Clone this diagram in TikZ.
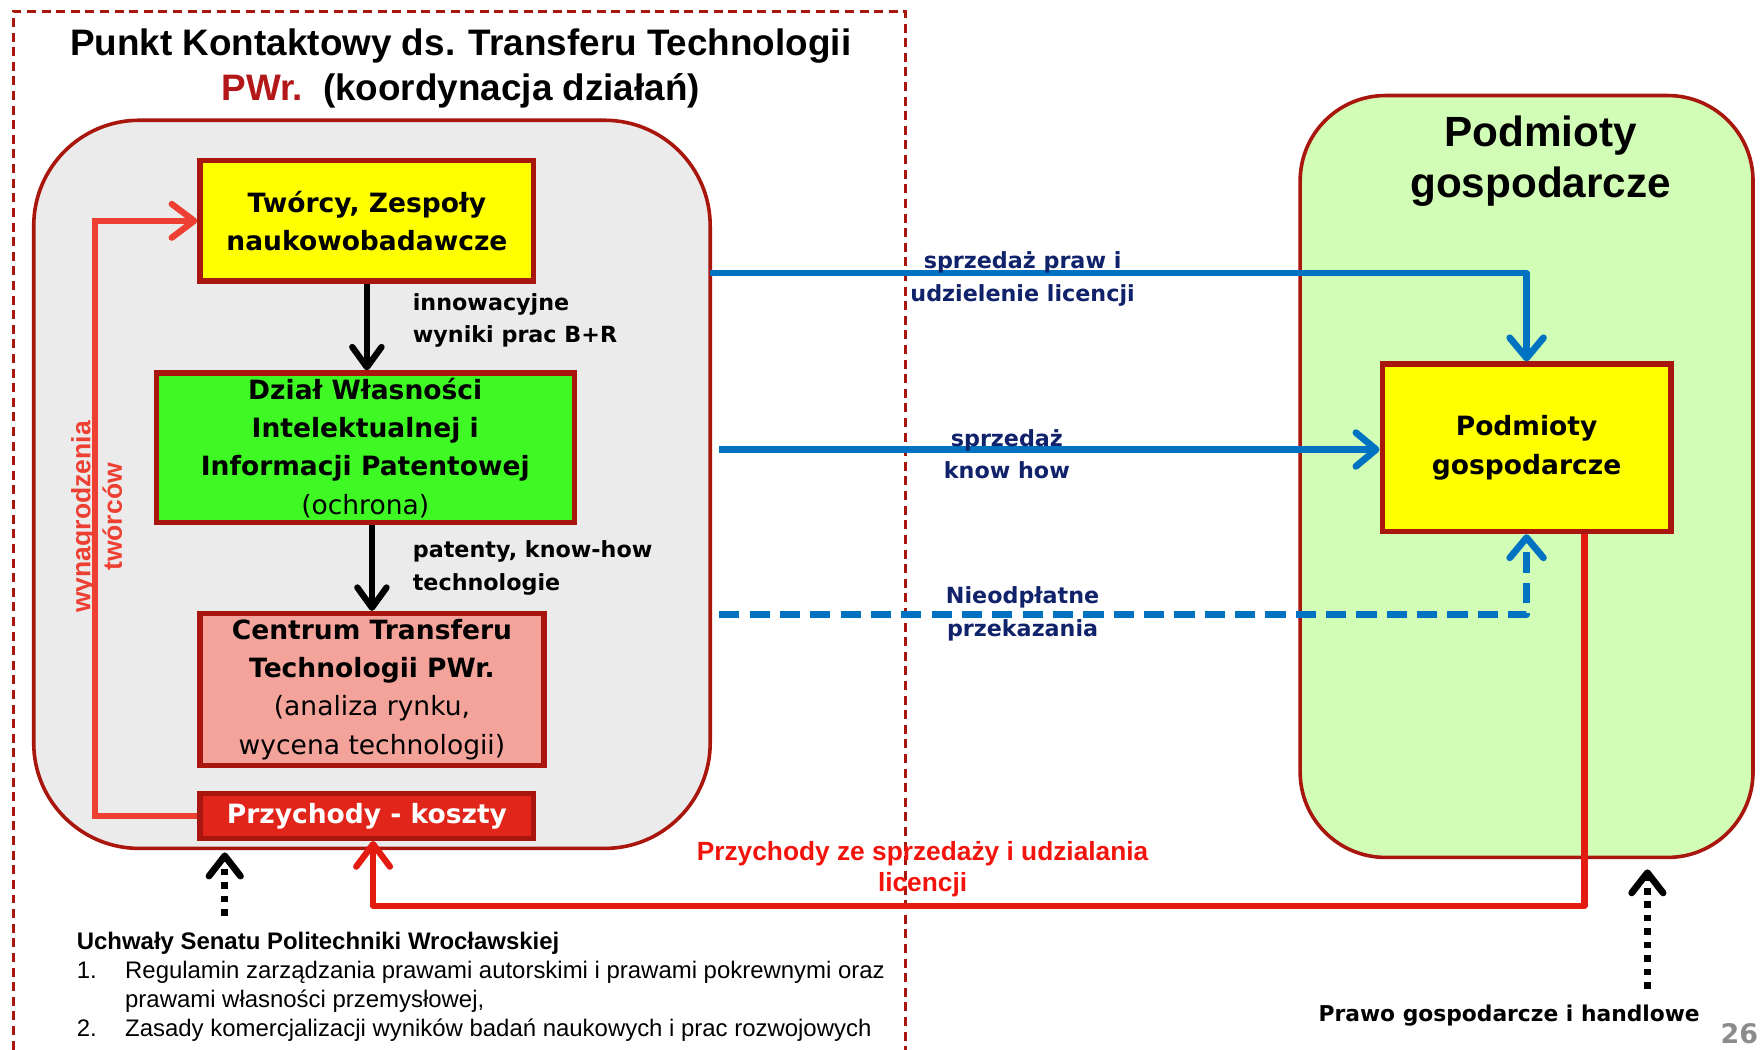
\documentclass[tikz,border=0pt]{standalone}
\usepackage{fontspec}
\setmainfont{Liberation Sans}
\newfontfamily\boxfont{DejaVu Sans}
\usepackage{tikz}
\usetikzlibrary{positioning, arrows.meta}

\definecolor{bordred}{HTML}{A8160E}
\definecolor{grayfill}{HTML}{EBEBEB}
\definecolor{boxyellow}{HTML}{FFFF00}
\definecolor{boxgreen}{HTML}{3FF925}
\definecolor{boxpink}{HTML}{F4A39A}
\definecolor{boxred}{HTML}{E1251A}
\definecolor{loopred}{HTML}{EE4032}
\definecolor{arrred}{HTML}{E41B10}
\definecolor{lightgreen}{HTML}{D2FDB6}
\definecolor{arrblue}{HTML}{0072C2}
\definecolor{navy}{HTML}{10226A}
\definecolor{labred}{HTML}{F2140C}
\definecolor{pwrred}{HTML}{B3171A}
\definecolor{numgray}{HTML}{8C8C8C}

\tikzset{
  region/.style={draw=bordred, line width=1.6pt, inner sep=0pt},
  unitbox/.style={draw=bordred, line width=2.4pt, inner sep=0pt, align=center,
    font=\boxfont\bfseries\fontsize{11.8}{17}\selectfont},
  flowlab/.style={inner sep=0pt, align=left, font=\boxfont\bfseries\fontsize{9.9}{14.5}\selectfont},
  bluelab/.style={inner sep=0pt, align=center, text=navy, font=\boxfont\bfseries\fontsize{9.9}{14.5}\selectfont},
  redlab/.style={inner sep=0pt, align=center, text=labred, font=\bfseries\fontsize{11.7}{14}\selectfont},
  blackarrow/.style={line width=2.8pt, -{Straight Barb[round, length=9pt, width=13pt]}},
  bluearrow/.style={arrblue, line width=3pt, -{Straight Barb[round, length=9pt, width=15pt]}},
  redarrow/.style={line width=2.8pt, -{Straight Barb[round, length=10pt, width=15pt]}},
  dotarrow/.style={line width=3pt, dash pattern=on 3pt off 3pt, -{Straight Barb[round, length=9pt, width=14pt]}},
}

\begin{document}
\begin{tikzpicture}[x=0.5pt, y=-0.5pt]
\useasboundingbox (0,0) rectangle (1568,934);
% dashed frame of the contact point
\draw[bordred, line width=1.3pt, dash pattern=on 4pt off 2.5pt] (12,934) -- (12,10) -- (806,10) -- (806,934);
\node[inner sep=0pt, align=center, font=\bfseries\fontsize{16.4}{20}\selectfont] (ttl) at (410,61)
  {Punkt Kontaktowy ds. Transferu Technologii\\{\color{pwrred}PWr.}\ \ (koordynacja działań)};

% the two rounded regions
\node[region, fill=grayfill, rounded corners=47pt, minimum width=301pt, minimum height=324pt] (pkt) at (331,431) {};
\node[region, fill=lightgreen, rounded corners=38pt, minimum width=201.5pt, minimum height=339pt] (gosp) at (1358.5,424) {};
\node[inner sep=0pt, align=center, font=\bfseries\fontsize{18.8}{22.5}\selectfont] (gospt) at (1371,143.5) {Podmioty\\gospodarcze};

% units of the university
\node[unitbox, fill=boxyellow, minimum width=148.5pt, minimum height=53.5pt] (twor) at (326.5,196.5) {Twórcy, Zespoły\\naukowobadawcze};
\node[unitbox, fill=boxgreen, minimum width=186pt, minimum height=66.5pt] (dzial) at (325,398.5)
  {Dział Własności\\Intelektualnej i\\Informacji Patentowej\\{\mdseries (ochrona)}};
\node[unitbox, fill=boxpink, minimum width=153pt, minimum height=67.5pt] (centrum) at (331,613.5)
  {Centrum Transferu\\Technologii PWr.\\{\mdseries (analiza rynku,}\\{\mdseries wycena technologii)}};
\node[unitbox, fill=boxred, text=white, minimum width=148.5pt, minimum height=20pt] (przych) at (326.5,726) {Przychody - koszty};
\node[unitbox, fill=boxyellow, minimum width=128.5pt, minimum height=74.5pt] (podm) at (1358.5,398.5) {Podmioty\\gospodarcze};

% flow inside
\draw[blackarrow] (twor.south) -- (dzial.north -| twor.south);
\draw[blackarrow] (centrum.north |- dzial.south) -- (centrum.north);
\node[flowlab, anchor=west] (innow) at (367,285) {innowacyjne\\wyniki prac B+R};
\node[flowlab, anchor=west] (paten) at (367,505.5) {patenty, know-how\\technologie};

% remuneration loop
\draw[loopred, redarrow] (przych.west) -- ++(-91,0) |- (twor.west);
\node[inner sep=0pt, align=center, text=loopred, rotate=90, font=\bfseries\fontsize{11.8}{14}\selectfont] (wyn) at (86,460) {wynagrodzenia\\twórców};

% transfers to the companies
\coordinate (s1) at (632,243);
\coordinate (s2) at (640,400);
\coordinate (s3) at (640,547);
\draw[bluearrow, line join=round] (s1) -| (podm.north);
\draw[bluearrow] (s2) -- (s2 -| podm.west);
\draw[bluearrow, line join=round, dash pattern=on 9pt off 4.5pt] (s3) -| (podm.south);
\node[bluelab] (lic) at (910,248) {sprzedaż praw i\\udzielenie licencji};
\node[bluelab] (know) at (896,404) {sprzedaż\\know how};
\node[bluelab] (nieod) at (910,546.5) {Nieodpłatne\\przekazania};

% revenue back
\coordinate (rv) at (1410,806);
\draw[arrred, redarrow, line join=round] (rv |- podm.south) -- (rv) -| ([xshift=2.75pt]przych.south);
\node[redlab] (rev) at (821,773.5) {Przychody ze sprzedaży i udzialania\\licencji};

% regulations
\coordinate (d1) at (200,815);
\coordinate (d2) at (1466,880);
\draw[dotarrow] (d1) -- ([yshift=-1pt]d1 |- pkt.south);
\draw[dotarrow] (d2) -- ([yshift=-4.5pt]d2 |- gosp.south);
\node[inner sep=0pt, anchor=north west, align=left, font=\fontsize{10.65}{12.85}\selectfont] (uchw) at (68,829)
  {\textbf{Uchwały Senatu Politechniki Wrocławskiej}\\
   \makebox[21.5pt][l]{1.}Regulamin zarządzania prawami autorskimi i prawami pokrewnymi oraz\\
   \hspace*{21.5pt}prawami własności przemysłowej,\\
   \makebox[21.5pt][l]{2.}Zasady komercjalizacji wyników badań naukowych i prac rozwojowych};
\node[inner sep=0pt, font=\boxfont\bfseries\fontsize{9.7}{12}\selectfont] (prawo) at (1343,904) {Prawo gospodarcze i handlowe};
\node[inner sep=0pt, anchor=east, text=numgray, font=\boxfont\bfseries\fontsize{12}{14}\selectfont] (num) at (1565,920) {26};
\end{tikzpicture}
\end{document}
